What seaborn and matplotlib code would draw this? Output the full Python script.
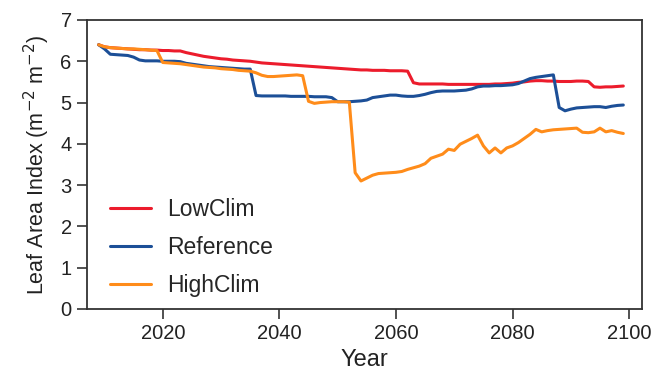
import numpy as np
import pandas as pd
import matplotlib
matplotlib.use("Agg")
import matplotlib.pyplot as plt
import seaborn as sns

years = list(range(2009, 2100))

low_clim = [6.40, 6.35, 6.33, 6.32, 6.31, 6.30, 6.29, 6.28, 6.28, 6.27,
            6.27, 6.26, 6.26, 6.25, 6.25, 6.21, 6.18, 6.15, 6.12, 6.10,
            6.08, 6.06, 6.05, 6.03, 6.02, 6.01, 6.00, 5.98, 5.96, 5.95,
            5.94, 5.93, 5.92, 5.91, 5.90, 5.89, 5.88, 5.87, 5.86, 5.85,
            5.84, 5.83, 5.82, 5.81, 5.80, 5.79, 5.79, 5.78, 5.78, 5.78,
            5.77, 5.77, 5.77, 5.76, 5.48, 5.45, 5.45, 5.45, 5.45, 5.45,
            5.44, 5.44, 5.44, 5.44, 5.44, 5.44, 5.44, 5.44, 5.45, 5.45,
            5.46, 5.47, 5.49, 5.50, 5.52, 5.53, 5.53, 5.52, 5.52, 5.51,
            5.51, 5.51, 5.52, 5.52, 5.51, 5.38, 5.37, 5.38, 5.38, 5.39,
            5.40]

reference = [6.40, 6.30, 6.17, 6.16, 6.15, 6.14, 6.10, 6.03, 6.01, 6.01,
             6.01, 6.00, 6.00, 6.00, 5.99, 5.95, 5.93, 5.91, 5.89, 5.87,
             5.86, 5.85, 5.84, 5.83, 5.82, 5.81, 5.81, 5.17, 5.16, 5.16,
             5.16, 5.16, 5.16, 5.15, 5.15, 5.15, 5.15, 5.14, 5.14, 5.14,
             5.12, 5.02, 5.02, 5.02, 5.03, 5.04, 5.06, 5.12, 5.14, 5.16,
             5.18, 5.18, 5.16, 5.15, 5.15, 5.17, 5.20, 5.24, 5.27, 5.28,
             5.28, 5.28, 5.29, 5.30, 5.33, 5.38, 5.40, 5.40, 5.41, 5.41,
             5.42, 5.43, 5.46, 5.52, 5.58, 5.61, 5.63, 5.65, 5.67, 4.88,
             4.80, 4.84, 4.87, 4.88, 4.89, 4.90, 4.90, 4.88, 4.91, 4.93,
             4.94]

high_clim = [6.40, 6.35, 6.33, 6.32, 6.31, 6.30, 6.30, 6.29, 6.28, 6.27,
             6.26, 5.97, 5.96, 5.95, 5.94, 5.92, 5.90, 5.88, 5.86, 5.85,
             5.84, 5.82, 5.81, 5.80, 5.78, 5.77, 5.76, 5.72, 5.66, 5.63,
             5.63, 5.64, 5.65, 5.66, 5.67, 5.65, 5.03, 4.98, 5.00, 5.01,
             5.02, 5.02, 5.02, 5.01, 3.30, 3.10, 3.17, 3.24, 3.28, 3.29,
             3.30, 3.31, 3.33, 3.38, 3.42, 3.46, 3.52, 3.65, 3.70, 3.75,
             3.87, 3.84, 3.99, 4.06, 4.13, 4.21, 3.95, 3.78, 3.90, 3.78,
             3.90, 3.95, 4.03, 4.13, 4.23, 4.35, 4.29, 4.32, 4.34, 4.35,
             4.36, 4.37, 4.38, 4.28, 4.27, 4.29, 4.38, 4.29, 4.32, 4.28,
             4.25]

series_names = ["LowClim", "Reference", "HighClim"]
x_ticks = [2020, 2040, 2060, 2080, 2100]
y_ticks = [0, 1, 2, 3, 4, 5, 6, 7]

df = pd.concat([
    pd.DataFrame({"Year": years, "LAI": vals, "Scenario": name})
    for name, vals in zip(series_names, [low_clim, reference, high_clim])
], ignore_index=True)

sns.set_style("white")
plt.rcParams['font.family'] = ['Liberation Sans', 'DejaVu Sans']

fig = plt.figure(figsize=(6.56, 3.70), dpi=100)
ax = fig.add_axes([0.1326, 0.165, 0.846, 0.781])

palette = {"LowClim": "#ec1c2c", "Reference": "#1c4f97", "HighClim": "#ff8c1a"}
sns.lineplot(data=df, x="Year", y="LAI", hue="Scenario", hue_order=series_names,
             palette=palette, linewidth=2.2, ax=ax)

ax.set_xlim(2007, 2102.2)
ax.set_ylim(0, 7)
ax.set_xticks(x_ticks)
ax.set_yticks(y_ticks)
ax.tick_params(axis='both', which='both', direction='out', length=7, width=1.2,
               labelsize=14.5, pad=4, bottom=True, left=True, top=False, right=False,
               color='#333333', labelcolor='#222222')
for s in ax.spines.values():
    s.set_color('#333333')
    s.set_linewidth(1.3)

ax.set_xlabel("Year", fontsize=17, color='#222222', labelpad=4)
ax.set_ylabel("Leaf Area Index (m$^{-2}$ m$^{-2}$)", fontsize=15.5, color='#222222',
              labelpad=6)

leg = ax.legend(loc='upper left', bbox_to_anchor=(0.041, 0.385), frameon=False,
                fontsize=16.5, handlelength=1.8, handletextpad=0.7,
                labelspacing=0.66, borderpad=0, borderaxespad=0)
for line in leg.get_lines():
    line.set_linewidth(2.2)

fig.savefig("out.png", dpi=100)
